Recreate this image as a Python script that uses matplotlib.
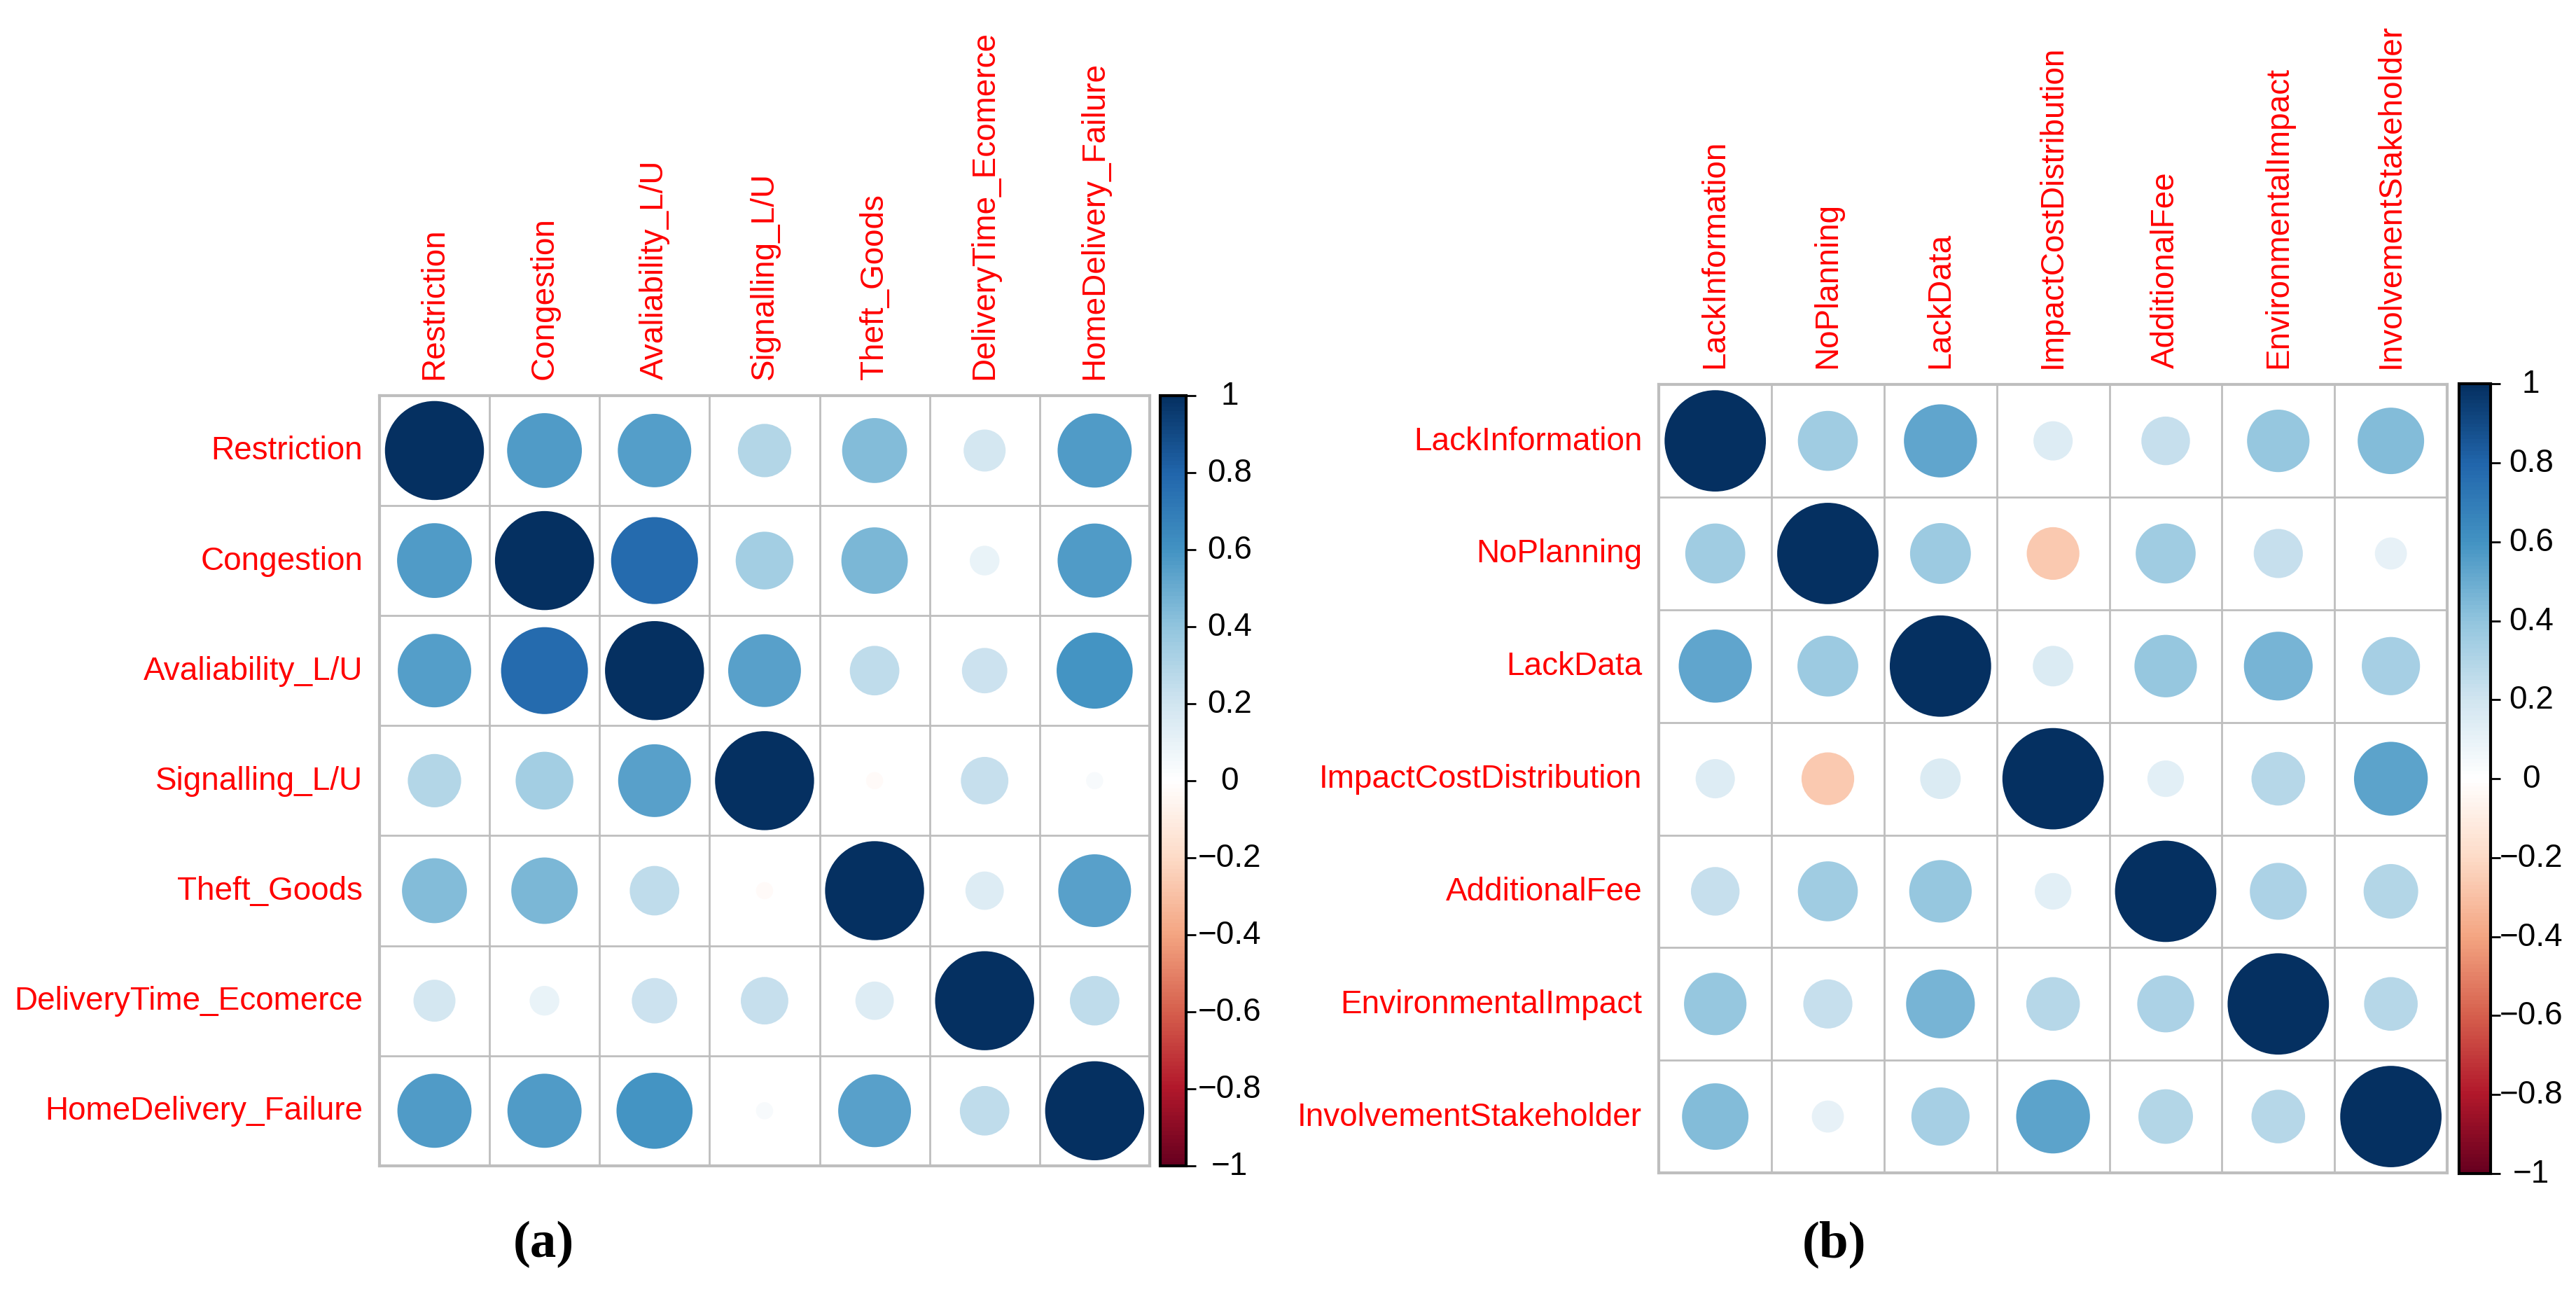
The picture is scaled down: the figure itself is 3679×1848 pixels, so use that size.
import numpy as np
import matplotlib.pyplot as plt
from matplotlib.patches import Circle
from matplotlib.colors import LinearSegmentedColormap, Normalize
from matplotlib.cm import ScalarMappable

plt.rcParams['font.family'] = ['Liberation Sans', 'DejaVu Sans']

# Datos: matrices de correlacion
labels_a = ["Restriction", "Congestion", "Avaliability_L/U", "Signalling_L/U",
            "Theft_Goods", "DeliveryTime_Ecomerce", "HomeDelivery_Failure"]
corr_a = [
    [1.00, 0.57, 0.55, 0.29, 0.43, 0.18, 0.56],
    [0.57, 1.00, 0.77, 0.34, 0.45, 0.09, 0.56],
    [0.55, 0.77, 1.00, 0.54, 0.25, 0.21, 0.59],
    [0.29, 0.34, 0.54, 1.00, -0.03, 0.23, 0.03],
    [0.43, 0.45, 0.25, -0.03, 1.00, 0.15, 0.54],
    [0.18, 0.09, 0.21, 0.23, 0.15, 1.00, 0.25],
    [0.56, 0.56, 0.59, 0.03, 0.54, 0.25, 1.00],
]

labels_b = ["LackInformation", "NoPlanning", "LackData", "ImpactCostDistribution",
            "AdditionalFee", "EnvironmentalImpact", "InvolvementStakeholder"]
corr_b = [
    [1.00, 0.35, 0.52, 0.15, 0.23, 0.38, 0.43],
    [0.35, 1.00, 0.36, -0.27, 0.35, 0.235, 0.10],
    [0.52, 0.36, 1.00, 0.16, 0.38, 0.46, 0.33],
    [0.15, -0.27, 0.16, 1.00, 0.13, 0.28, 0.53],
    [0.23, 0.35, 0.38, 0.13, 1.00, 0.315, 0.29],
    [0.38, 0.235, 0.46, 0.28, 0.315, 1.00, 0.28],
    [0.43, 0.10, 0.33, 0.53, 0.29, 0.28, 1.00],
]

cbar_ticks = [1, 0.8, 0.6, 0.4, 0.2, 0, -0.2, -0.4, -0.6, -0.8, -1]

# Paleta RdBu como en corrplot
col2 = ["#67001F", "#B2182B", "#D6604D", "#F4A582", "#FDDBC7", "#FFFFFF",
        "#D1E5F0", "#92C5DE", "#4393C3", "#2166AC", "#053061"]
cmap = LinearSegmentedColormap.from_list('corrplot', col2, N=200)
norm = Normalize(-1, 1)

fig = plt.figure(figsize=(36.79, 18.49), dpi=100)


def corr_panel(rect, cbar_rect, labels, corr, lab_x):
    ax = fig.add_axes(rect)
    m = np.array(corr)
    n = len(labels)
    for i in range(n):
        for j in range(n):
            r = m[i, j]
            ax.add_patch(Circle((j + 0.5, i + 0.5), 0.45 * np.sqrt(abs(r)),
                                facecolor=cmap(norm(r)), lw=0))
    for k in range(1, n):
        ax.axhline(k, color='#BEBEBE', lw=2)
        ax.axvline(k, color='#BEBEBE', lw=2)
    ax.set_xlim(0, n)
    ax.set_ylim(n, 0)
    ax.set_aspect('equal')
    ax.set_xticks([])
    ax.set_yticks([])
    for s in ax.spines.values():
        s.set_color('#BEBEBE')
        s.set_linewidth(3)

    # Etiquetas de filas y columnas
    for k, lab in enumerate(labels):
        ax.text(-0.15, k + 0.5, lab, ha='right', va='center', color='red', fontsize=33)
        ax.text(k + 0.5, -0.15, lab, ha='center', va='bottom', rotation=90,
                color='red', fontsize=33)

    # Barra de color
    cax = fig.add_axes(cbar_rect)
    cb = fig.colorbar(ScalarMappable(norm=norm, cmap=cmap), cax=cax)
    cb.outline.set_linewidth(3)
    cb.set_ticks(cbar_ticks)
    cax.tick_params(length=10, width=2, labelright=False)
    for v in cbar_ticks:
        txt = f"{v:g}".replace('-', '\u2212')
        cax.text(lab_x, (v + 1) / 2, txt, transform=cax.transAxes, ha='center',
                 va='center', fontsize=33)
    return ax


corr_panel([0.1473, 0.099, 0.299, 0.595], [0.4503, 0.099, 0.0102, 0.595],
           labels_a, corr_a, 2.65)
corr_panel([0.644, 0.093, 0.306, 0.61], [0.9547, 0.093, 0.0121, 0.61],
           labels_b, corr_b, 2.3)

fig.text(0.211, 0.039, "(a)", ha='center', va='center', fontsize=54,
         fontweight='bold', family='Liberation Serif')
fig.text(0.712, 0.039, "(b)", ha='center', va='center', fontsize=54,
         fontweight='bold', family='Liberation Serif')

fig.savefig('out.png', dpi=100, facecolor='white')
